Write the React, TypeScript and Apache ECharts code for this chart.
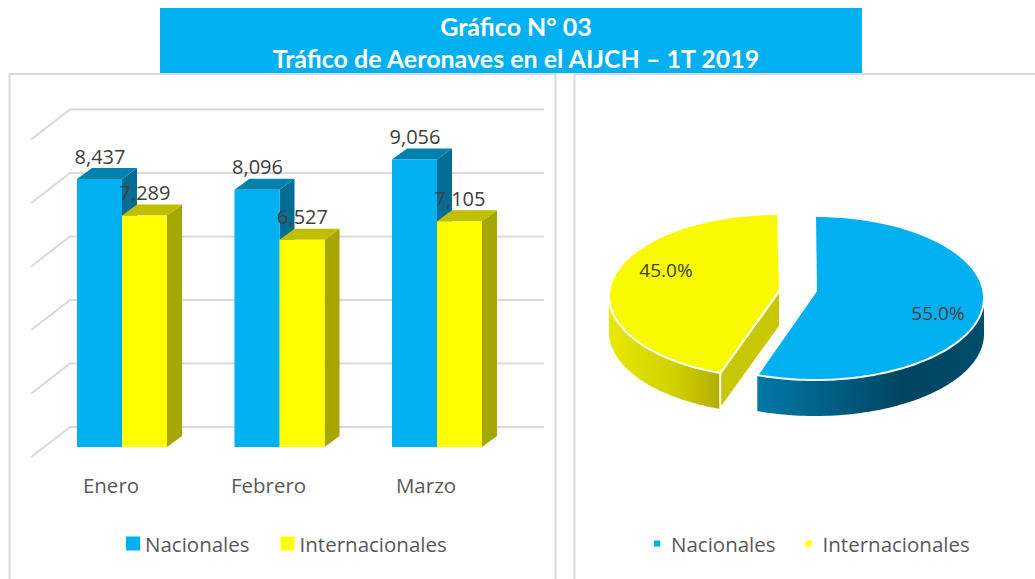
import React, { useEffect, useRef } from "react";
import * as echarts from "echarts";

const months = ["Enero", "Febrero", "Marzo"];
const nacionales = [8437, 8096, 9056];
const internacionales = [7289, 6527, 7105];
const gridLevels = [0, 2000, 4000, 6000, 8000, 10000];
const pieNames = ["Nacionales", "Internacionales"];
const pieValues = [55.0, 45.0];
const titleLines = ["Gráfico N° 03", "Tráfico de Aeronaves en el AIJCH – 1T 2019"];

const FONT = "'Open Sans', sans-serif";
const BLUE = "#00b0f0";
const YELLOW = "#ffff00";
const GREY = "#d9d9d9";

const fmt = (v: number) => v.toLocaleString("en-US");

function barRender(offset: number, face: string, top: string, side: string) {
  return (params: any, api: any) => {
    const [cx, y] = api.coord([api.value(0), api.value(1)]);
    const [, y0] = api.coord([api.value(0), 0]);
    const w = 45;
    const dx = 15;
    const dy = 11;
    const x = cx + 11 + offset;
    return {
      type: "group",
      children: [
        { type: "polygon", shape: { points: [[x + w, y], [x + w + dx, y - dy], [x + w + dx, y0 - dy], [x + w, y0]] }, style: { fill: side } },
        { type: "polygon", shape: { points: [[x, y], [x + dx, y - dy], [x + w + dx, y - dy], [x + w, y]] }, style: { fill: top } },
        { type: "rect", shape: { x, y, width: w, height: y0 - y }, style: { fill: face } },
        {
          type: "text",
          z2: 50,
          style: {
            x: x + w / 2 + 0.5,
            y: y - 23,
            text: fmt(api.value(1)),
            fill: "#404040",
            font: `20px ${FONT}`,
            align: "center",
            verticalAlign: "middle",
          },
        },
      ],
    };
  };
}

function gridRender(params: any, api: any) {
  const cs = params.coordSys;
  const [, y] = api.coord([0, api.value(1)]);
  return {
    type: "polyline",
    shape: { points: [[cs.x - 1, y + 10], [70, y - 20], [544, y - 20]] },
    style: { stroke: GREY, lineWidth: 2, fill: "none" },
    silent: true,
  };
}

const PIE = { cx: 815, cy: 298, rx: 169, ry: 82, depth: 36 };
const pieShift = [
  { x: 0, y: 0, apexX: 816, apexY: 291 },
  { x: -37, y: -2, apexX: 780, apexY: 290 },
];
const pieLabelAt = [
  [938, 313],
  [666, 270],
];

const warp = (deg: number) => deg + 2 * Math.sin((deg / 2) * (Math.PI / 180));

function piePoint(deg: number, sx: number, sy: number): number[] {
  const a = (deg * Math.PI) / 180;
  return [PIE.cx + sx + PIE.rx * Math.sin(a), PIE.cy + sy - PIE.ry * Math.cos(a)];
}

function arc(from: number, to: number, sx: number, sy: number): number[][] {
  const pts: number[][] = [];
  const n = Math.max(2, Math.ceil(Math.abs(to - from) / 1.5));
  for (let i = 0; i <= n; i++) pts.push(piePoint(from + ((to - from) * i) / n, sx, sy));
  return pts;
}

function wall(from: number, to: number, sx: number, sy: number): number[][] {
  const top = arc(from, to, sx, sy);
  const bottom = top.map((p) => [p[0], p[1] + PIE.depth]).reverse();
  return top.concat(bottom);
}

function pieRender(params: any, api: any) {
  const i = params.dataIndex;
  const total = pieValues.reduce((a, b) => a + b, 0);
  const before = pieValues.slice(0, i).reduce((a, b) => a + b, 0);
  const value = api.value(1);
  const start = warp((before / total) * 360);
  const end = warp(((before + value) / total) * 360);
  const s = pieShift[i];
  const children: any[] = [];
  if (i === 0) {
    children.push({
      type: "polygon",
      shape: { points: wall(90, end, s.x, s.y) },
      style: {
        fill: new echarts.graphic.LinearGradient(1, 0, 0, 0, [
          { offset: 0, color: "#004d6b" },
          { offset: 0.35, color: "#004460" },
          { offset: 1, color: "#0078a8" },
        ]),
      },
    });
  } else {
    children.push({
      type: "polygon",
      shape: { points: wall(start, 270, s.x, s.y) },
      style: {
        fill: new echarts.graphic.LinearGradient(0, 0, 1, 0, [
          { offset: 0, color: "#e8e800" },
          { offset: 0.6, color: "#d0d000" },
          { offset: 1, color: "#b3ac00" },
        ]),
      },
    });
    const p = piePoint(start, s.x, s.y);
    children.push({
      type: "polygon",
      shape: {
        points: [p, [s.apexX, s.apexY], [s.apexX, s.apexY + PIE.depth], [p[0], p[1] + PIE.depth]],
      },
      style: { fill: "#c8c800", stroke: "#ffffff", lineWidth: 2 },
    });
  }
  children.push({
    type: "polygon",
    shape: { points: [[s.apexX, s.apexY], ...arc(start, end, s.x, s.y)] },
    style: { fill: i === 0 ? BLUE : "#f9f900", stroke: "#ffffff", lineWidth: 2 },
  });
  children.push({
    type: "text",
    z2: 50,
    style: {
      x: pieLabelAt[i][0],
      y: pieLabelAt[i][1],
      text: `${value.toFixed(1)}%`,
      fill: "#404040",
      font: `19px ${FONT}`,
      align: "center",
      verticalAlign: "middle",
    },
  });
  return { type: "group", children };
}

export default function App() {
  const ref = useRef<HTMLDivElement>(null);
  useEffect(() => {
    const chart = echarts.init(ref.current!, null, { renderer: "svg" });
    chart.setOption({
      animation: false,
      backgroundColor: "#ffffff",
      title: {
        text: titleLines.join("\n"),
        left: 511,
        top: 5,
        textAlign: "center",
        textStyle: { color: "#ffffff", fontFamily: "Lato, sans-serif", fontWeight: "bold", fontSize: 25, lineHeight: 32 },
      },
      graphic: [
        { type: "rect", z: -2, shape: { x: 160, y: 8, width: 702, height: 65 }, style: { fill: BLUE } },
        { type: "rect", z: -2, shape: { x: 9.5, y: 74, width: 546, height: 520 }, style: { fill: "none", stroke: GREY, lineWidth: 2 } },
        { type: "rect", z: -2, shape: { x: 574.5, y: 74, width: 480, height: 520 }, style: { fill: "none", stroke: GREY, lineWidth: 2 } },
      ],
      legend: [
        {
          data: pieNames,
          left: 121,
          top: 528,
          icon: "rect",
          itemWidth: 14,
          itemHeight: 14,
          itemGap: 31,
          selectedMode: false,
          textStyle: { fontFamily: FONT, fontSize: 20.5, color: "#595959" },
        },
        {
          data: pieNames,
          left: 649,
          top: 528,
          icon: "rect",
          itemWidth: 6,
          itemHeight: 6,
          itemGap: 30,
          selectedMode: false,
          textStyle: { fontFamily: FONT, fontSize: 20.5, color: "#595959", padding: [0, 0, 0, 6] },
        },
      ],
      grid: { left: 32.25, top: 129.4, width: 472.5, height: 317.6, containLabel: false },
      xAxis: {
        type: "category",
        data: months,
        axisLine: { show: false },
        axisTick: { show: false },
        axisLabel: { fontFamily: FONT, fontSize: 20.5, color: "#595959", margin: 27 },
      },
      yAxis: { type: "value", min: 0, max: 10000, show: false },
      series: [
        {
          type: "custom",
          name: "grid",
          silent: true,
          clip: false,
          z: 1,
          renderItem: gridRender,
          encode: { x: 0, y: 1 },
          data: gridLevels.map((v) => [0, v]),
        },
        {
          type: "custom",
          name: "Nacionales",
          clip: false,
          z: 2,
          itemStyle: { color: BLUE },
          renderItem: barRender(-45, BLUE, "#0081ae", "#006d94"),
          encode: { x: 0, y: 1 },
          data: nacionales.map((v, i) => [i, v]),
        },
        {
          type: "custom",
          name: "Internacionales",
          clip: false,
          z: 3,
          itemStyle: { color: YELLOW },
          renderItem: barRender(0, YELLOW, "#bfbf00", "#a6a600"),
          encode: { x: 0, y: 1 },
          data: internacionales.map((v, i) => [i, v]),
        },
        {
          type: "custom",
          name: "Participación",
          coordinateSystem: "none",
          clip: false,
          z: 2,
          renderItem: pieRender,
          data: pieValues.map((v, i) => [i, v]),
        },
      ],
    });
    return () => chart.dispose();
  }, []);
  return <div ref={ref} style={{ position: "fixed", left: 0, top: 0, width: 1035, height: 579 }} />;
}
